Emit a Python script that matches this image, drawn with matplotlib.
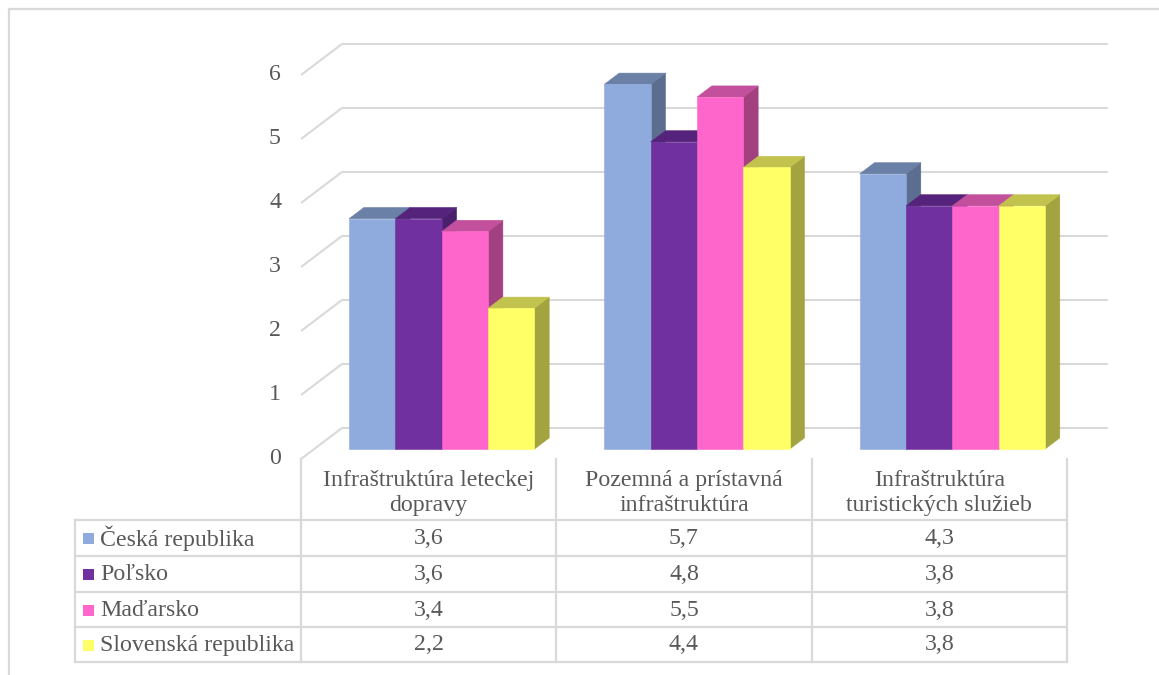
import matplotlib
matplotlib.use("Agg")
import matplotlib.pyplot as plt
from matplotlib.patches import Polygon
from matplotlib.transforms import blended_transform_factory

# ---- data ----
categories = ["Infraštruktúra leteckej\ndopravy",
              "Pozemná a prístavná\ninfraštruktúra",
              "Infraštruktúra\nturistických služieb"]
series = ["Česká republika", "Poľsko", "Maďarsko", "Slovenská republika"]
ceska = [3.6, 5.7, 4.3]
polsko = [3.6, 4.8, 3.8]
madarsko = [3.4, 5.5, 3.8]
slovenska = [2.2, 4.4, 3.8]
values = [ceska, polsko, madarsko, slovenska]
y_ticks = [0, 1, 2, 3, 4, 5, 6]

# ---- styles ----
front_colors = ["#8FAADC", "#7030A0", "#FF66CC", "#FFFF66"]
top_colors = ["#6B80A6", "#55237B", "#C3509D", "#C2C24E"]
side_colors = ["#5C6E90", "#4A1F6B", "#A3407F", "#A3A340"]
grid_color = "#D9D9D9"
text_color = "#595959"
plt.rcParams["font.family"] = ["Liberation Serif", "DejaVu Serif"]
FS = 17.2

W, H = 1159, 675
fig = plt.figure(figsize=(W / 100, H / 100), dpi=100)
fig.patch.set_facecolor("white")

# pixel-space layout axes
pa = fig.add_axes([0, 0, 1, 1])
pa.set_xlim(0, W)
pa.set_ylim(H, 0)
pa.axis("off")

# value-space axes: x in category units, y in value units (front plane)
X0, CW = 301.0, 255.3
Y0, VU = 459.0, 64.0
ax = fig.add_axes([0, 0, 1, 1])
ax.set_xlim(-X0 / CW, (W - X0) / CW)
ax.set_ylim(-(H - Y0) / VU, Y0 / VU)
ax.axis("off")
ax.patch.set_alpha(0)

DX = 41.0 / CW   # depth offset (x) front -> back wall
DY = 31.0 / VU   # depth offset (y) front -> back wall
ncat = len(categories)

# outer frame
pa.plot([8.5, 8.5, W], [H, 8.5, 8.5], color=grid_color, lw=1.6, zorder=1)

# gridlines: front diagonal + back wall
for v in y_ticks:
    ax.plot([0, DX, ncat + DX], [v, v + DY, v + DY],
            color=grid_color, lw=1.5, zorder=1, solid_capstyle="butt")

# bars
n = len(series)
gap = 35.0 / CW
bw = (1 - 2 * gap) / n
d0, dd = 0.32, 0.36
for i in range(ncat):
    for j in range(n):
        v = values[j][i]
        xl = i + gap + j * bw + DX * d0
        yb = DY * d0
        xr = xl + bw
        ex, ey = DX * dd, DY * dd
        side = Polygon([(xr, yb), (xr + ex, yb + ey), (xr + ex, yb + v + ey), (xr, yb + v)],
                       closed=True, fc=side_colors[j], ec=side_colors[j], lw=0.4, zorder=3)
        top = Polygon([(xl, yb + v), (xr, yb + v), (xr + ex, yb + v + ey), (xl + ex, yb + v + ey)],
                      closed=True, fc=top_colors[j], ec=top_colors[j], lw=0.4, zorder=3)
        front = Polygon([(xl, yb), (xr, yb), (xr, yb + v), (xl, yb + v)],
                        closed=True, fc=front_colors[j], ec=front_colors[j], lw=0.4, zorder=3)
        for p in (side, top, front):
            ax.add_patch(p)

# y tick labels
ty = blended_transform_factory(pa.transData, ax.transData)
for v in y_ticks:
    ax.text(275, v, str(v), transform=ty, ha="center", va="center",
            fontsize=FS, color=text_color)

# data table
tx = blended_transform_factory(ax.transData, pa.transData)
row_lines = [520, 556, 592, 627, 662]
table_left = 75
for y in row_lines:
    ax.plot([table_left, X0 + ncat * CW], [y, y], transform=pa.transData,
            color=grid_color, lw=1.6, zorder=1)
pa.plot([table_left, table_left], [row_lines[0], row_lines[-1]],
        color=grid_color, lw=1.6, zorder=1)
for c in range(ncat + 1):
    ax.plot([c, c], [Y0, row_lines[-1]], transform=tx,
            color=grid_color, lw=1.6, zorder=1)

for i, cat in enumerate(categories):
    ax.text(i + 0.5, 493, cat, transform=tx, ha="center", va="center",
            fontsize=FS, color=text_color, linespacing=1.3)

for j, name in enumerate(series):
    yc = (row_lines[j] + row_lines[j + 1]) / 2 + 0.5
    pa.add_patch(plt.Rectangle((83, yc - 5.5), 11, 11, fc=front_colors[j], ec="none"))
    pa.text(100, yc, name, ha="left", va="center", fontsize=FS, color=text_color)
    for i in range(ncat):
        ax.text(i + 0.5, yc, f"{values[j][i]:.1f}".replace(".", ","), transform=tx,
                ha="center", va="center", fontsize=FS, color=text_color)

fig.savefig("out.png", dpi=100)
